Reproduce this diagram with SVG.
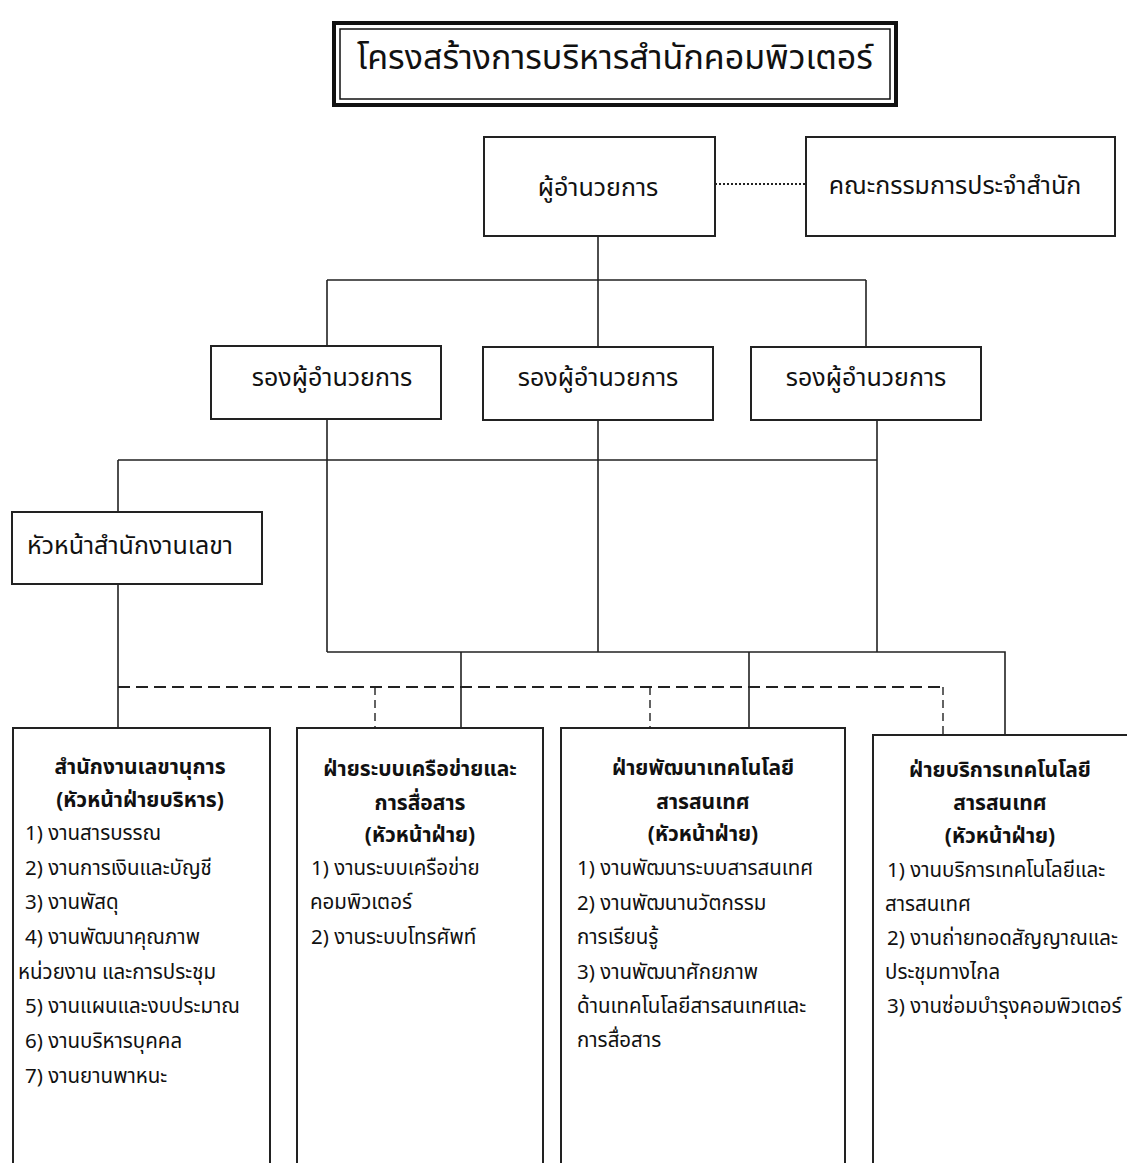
<svg xmlns="http://www.w3.org/2000/svg" width="1127" height="1163" viewBox="0 0 1127 1163">
<style>
text{font-family:'Noto Sans Thai','Noto Sans','DejaVu Sans',sans-serif;fill:#111}
.box{fill:#fff;stroke:#222;stroke-width:2}
.ln{fill:none;stroke:#222;stroke-width:1.6}
.dash{fill:none;stroke:#222;stroke-width:2.2;stroke-dasharray:12,6}
.dashv{fill:none;stroke:#222;stroke-width:1.4;stroke-dasharray:8,5}
.dot{fill:none;stroke:#222;stroke-width:2;stroke-dasharray:2,2}
.t20{font-size:25px;text-anchor:middle}
.h{font-size:21px;font-weight:bold;text-anchor:middle}
.i{font-size:20.5px}
</style>
<rect width="1127" height="1163" fill="#fff"/>
<g id="connectors">
<path class="dot" d="M715,184 H806"/>
<path class="ln" d="M598,236 V280 M327,280 H866 M327,280 V346 M598,280 V347 M866,280 V347"/>
<path class="ln" d="M327,419 V652 M598,420 V652 M877,420 V652 M118,460 H877 M118,460 V512 M118,584 V728 M327,652 H1005 V735 M461,652 V728 M749,652 V728"/>
<path class="dash" d="M118,687 H943"/>
<path class="dashv" d="M375,687 V728 M650,687 V728 M943,687 V735"/>
</g>
<g id="title">
<rect x="334" y="23" width="562" height="82" fill="#fff" stroke="#111" stroke-width="4"/>
<rect x="340" y="29" width="550" height="70" fill="none" stroke="#111" stroke-width="1.5"/>
<text x="615" y="69" font-size="34" text-anchor="middle">โครงสร้างการบริหารสำนักคอมพิวเตอร์</text>
</g>
<g id="director">
<rect class="box" x="484" y="137" width="231" height="99"/>
<text class="t20" x="598" y="196">ผู้อำนวยการ</text>
</g>
<g id="committee">
<rect class="box" x="806" y="137" width="309" height="99"/>
<text class="t20" x="955" y="194">คณะกรรมการประจำสำนัก</text>
</g>
<g id="deputy1">
<rect class="box" x="211" y="346" width="230" height="73"/>
<text class="t20" x="332" y="386">รองผู้อำนวยการ</text>
</g>
<g id="deputy2">
<rect class="box" x="483" y="347" width="230" height="73"/>
<text class="t20" x="598" y="386">รองผู้อำนวยการ</text>
</g>
<g id="deputy3">
<rect class="box" x="751" y="347" width="230" height="73"/>
<text class="t20" x="866" y="386">รองผู้อำนวยการ</text>
</g>
<g id="secretary-head">
<rect class="box" x="12" y="512" width="250" height="72"/>
<text class="t20" x="130" y="554">หัวหน้าสำนักงานเลขา</text>
</g>
<g id="office-secretary">
<path class="box" d="M13,1170 V728 H270 V1170"/>
<text class="h" x="140" y="774">สำนักงานเลขานุการ</text>
<text class="h" x="140" y="807">(หัวหน้าฝ่ายบริหาร)</text>
<text class="i" x="25" y="840">1) งานสารบรรณ</text>
<text class="i" x="25" y="875">2) งานการเงินและบัญชี</text>
<text class="i" x="25" y="909">3) งานพัสดุ</text>
<text class="i" x="25" y="944">4) งานพัฒนาคุณภาพ</text>
<text class="i" x="18" y="979">หน่วยงาน และการประชุม</text>
<text class="i" x="25" y="1013">5) งานแผนและงบประมาณ</text>
<text class="i" x="25" y="1048">6) งานบริหารบุคคล</text>
<text class="i" x="25" y="1083">7) งานยานพาหนะ</text>
</g>
<g id="network-div">
<path class="box" d="M297,1170 V728 H543 V1170"/>
<text class="h" x="420" y="776">ฝ่ายระบบเครือข่ายและ</text>
<text class="h" x="420" y="810">การสื่อสาร</text>
<text class="h" x="420" y="842">(หัวหน้าฝ่าย)</text>
<text class="i" x="311" y="875">1) งานระบบเครือข่าย</text>
<text class="i" x="310" y="909">คอมพิวเตอร์</text>
<text class="i" x="311" y="944">2) งานระบบโทรศัพท์</text>
</g>
<g id="dev-div">
<path class="box" d="M561,1170 V728 H845 V1170"/>
<text class="h" x="703" y="775">ฝ่ายพัฒนาเทคโนโลยี</text>
<text class="h" x="703" y="809">สารสนเทศ</text>
<text class="h" x="703" y="841">(หัวหน้าฝ่าย)</text>
<text class="i" x="577" y="875">1) งานพัฒนาระบบสารสนเทศ</text>
<text class="i" x="577" y="910">2) งานพัฒนานวัตกรรม</text>
<text class="i" x="577" y="944">การเรียนรู้</text>
<text class="i" x="577" y="979">3) งานพัฒนาศักยภาพ</text>
<text class="i" x="577" y="1013">ด้านเทคโนโลยีสารสนเทศและ</text>
<text class="i" x="577" y="1047">การสื่อสาร</text>
</g>
<g id="service-div">
<path class="box" d="M873,1170 V735 H1130"/>
<text class="h" x="1000" y="777">ฝ่ายบริการเทคโนโลยี</text>
<text class="h" x="1000" y="810">สารสนเทศ</text>
<text class="h" x="1000" y="843">(หัวหน้าฝ่าย)</text>
<text class="i" x="887" y="877">1) งานบริการเทคโนโลยีและ</text>
<text class="i" x="885" y="911">สารสนเทศ</text>
<text class="i" x="887" y="945">2) งานถ่ายทอดสัญญาณและ</text>
<text class="i" x="885" y="979">ประชุมทางไกล</text>
<text class="i" x="887" y="1013">3) งานซ่อมบำรุงคอมพิวเตอร์</text>
</g>
</svg>
